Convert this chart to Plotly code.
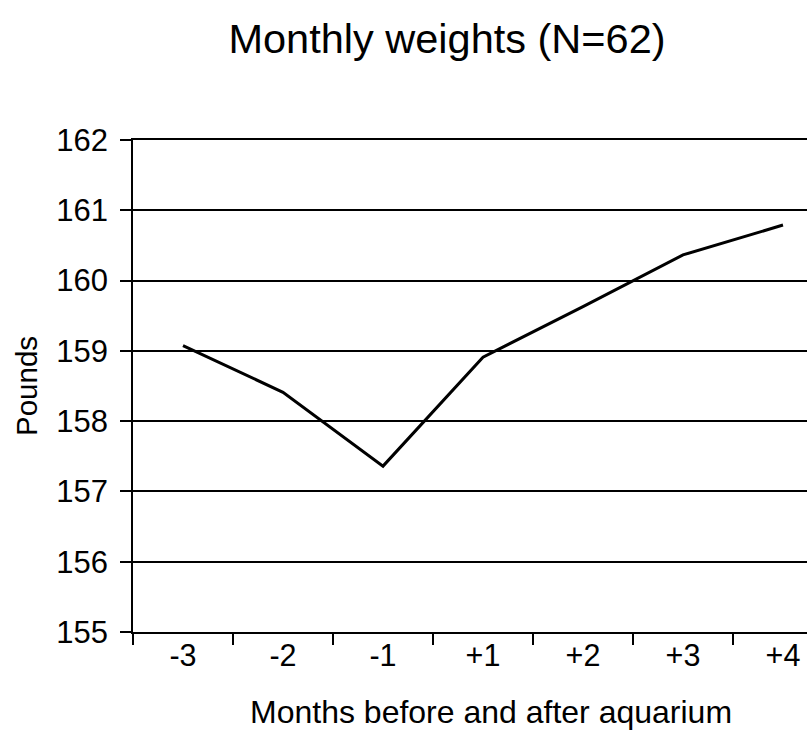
import plotly.graph_objects as go

months = ["-3", "-2", "-1", "+1", "+2", "+3", "+4"]
weights = [159.075, 158.41, 157.36, 158.91, 159.63, 160.365, 160.79]
y_ticks = [155, 156, 157, 158, 159, 160, 161, 162]

W, H = 807, 749
L, T, B = 133, 140, 117
FONT = "Liberation Sans, Arial, sans-serif"

fig = go.Figure()
fig.add_trace(go.Scatter(
    x=months, y=weights, mode="lines",
    line=dict(color="black", width=3),
    hoverinfo="skip", showlegend=False,
))

plot_w = W - L
fig.update_layout(
    width=W, height=H,
    margin=dict(l=L, r=0, t=T, b=B, pad=0),
    paper_bgcolor="white", plot_bgcolor="white",
    font=dict(family=FONT, color="black", size=30),
    title=dict(
        text="Monthly weights (N=62)",
        font=dict(family=FONT, size=41.5, color="black"),
        xref="container", yref="container",
        x=447 / W, xanchor="center",
        y=1 - 38 / H, yanchor="middle",
    ),
    xaxis=dict(
        type="category",
        range=[-0.5, -0.5 + plot_w / 100.0],
        showgrid=False,
        showline=True, mirror=True, linecolor="black", linewidth=1.5,
        ticks="outside", ticklen=11, tickwidth=1.5, tickcolor="black",
        tickson="boundaries",
        ticklabelstandoff=-4,
        tickfont=dict(family=FONT, size=30.5, color="black"),
        zeroline=False, fixedrange=True,
    ),
    yaxis=dict(
        range=[155, 162],
        tickvals=y_ticks,
        showgrid=True, gridcolor="black", gridwidth=1.5,
        showline=True, linecolor="black", linewidth=1.5,
        ticks="outside", ticklen=11, tickwidth=1.5, tickcolor="black",
        ticklabelstandoff=6,
        tickfont=dict(family=FONT, size=31, color="black"),
        zeroline=False, fixedrange=True,
    ),
    annotations=[
        dict(text="Pounds", textangle=-90,
             xref="paper", yref="paper",
             x=(26 - L) / plot_w, y=0.5,
             xanchor="center", yanchor="middle", showarrow=False,
             font=dict(family=FONT, size=29.5, color="black")),
        dict(text="Months before and after aquarium",
             xref="paper", yref="paper",
             x=(491 - L) / plot_w, y=-(712 - (H - B)) / (H - T - B),
             xanchor="center", yanchor="middle", showarrow=False,
             font=dict(family=FONT, size=32, color="black")),
    ],
)

fig.write_html(
    "out.html",
    config={"displayModeBar": False},
    post_script="document.body.style.margin='0';document.body.style.overflow='hidden';",
)
